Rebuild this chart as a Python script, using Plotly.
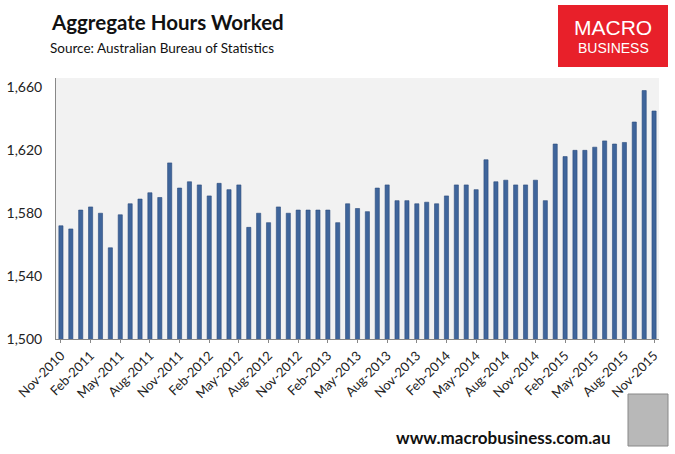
import plotly.graph_objects as go

month_names = ["Jan", "Feb", "Mar", "Apr", "May", "Jun", "Jul", "Aug", "Sep", "Oct", "Nov", "Dec"]
categories = []
for i in range(61):
    idx = 10 + i
    categories.append(f"{month_names[idx % 12]}-{2010 + idx // 12}")

hours = [1572, 1570, 1582, 1584, 1580, 1558, 1579, 1586, 1589, 1593,
         1590, 1612, 1596, 1600, 1598, 1591, 1599, 1595, 1598, 1571,
         1580, 1574, 1584, 1580, 1582, 1582, 1582, 1582, 1574, 1586,
         1583, 1581, 1596, 1598, 1588, 1588, 1586, 1587, 1586, 1591,
         1598, 1598, 1595, 1614, 1600, 1601, 1598, 1598, 1601, 1588,
         1624, 1616, 1620, 1620, 1622, 1626, 1624, 1625, 1638, 1658,
         1645]

tick_labels = categories[::3]
y_ticks = [1500, 1540, 1580, 1620, 1660]

L, R, T, B = 56, 16, 78, 115
W, H = 675, 454
PW, PH = W - L - R, H - T - B


def px(x):
    return (x - L) / PW


def py(y):
    return (H - B - y) / PH


fig = go.Figure()
fig.add_trace(go.Bar(
    x=categories, y=hours,
    marker=dict(color="#3F659B", line=dict(color="#2C4C7C", width=0.6)),
))

font_family = "Lato, Open Sans, sans-serif"
fig.update_layout(
    width=W, height=H,
    margin=dict(l=L, r=R, t=T, b=B),
    paper_bgcolor="white",
    plot_bgcolor="#f2f2f2",
    bargap=0.58,
    showlegend=False,
    font=dict(family=font_family, color="#222"),
    xaxis=dict(
        type="category", automargin=False,
        tickmode="array", tickvals=tick_labels, ticktext=tick_labels,
        tickangle=-45, tickfont=dict(size=13, color="#222"),
        showline=True, linecolor="#888", linewidth=1,
        ticks="outside", ticklen=3, tickcolor="#888",
        showgrid=False,
    ),
    yaxis=dict(
        automargin=False,
        range=[1500, 1666], tickvals=y_ticks, tickformat=",",
        tickfont=dict(size=14, color="#222"),
        showline=True, linecolor="#888", linewidth=1,
        showgrid=False, zeroline=False, ticks="", ticklabelstandoff=10,
    ),
)

fig.add_annotation(text="<b>Aggregate Hours Worked</b>", xref="paper", yref="paper",
                   x=px(49), y=py(22), xanchor="left", yanchor="middle",
                   showarrow=False, font=dict(size=20.5, family=font_family, color="#111"))
fig.add_annotation(text="Source: Australian Bureau of Statistics", xref="paper", yref="paper",
                   x=px(48), y=py(48), xanchor="left", yanchor="middle",
                   showarrow=False, font=dict(size=13.5, family=font_family, color="#111"))
fig.add_annotation(text="<b>www.macrobusiness.com.au</b>", xref="paper", yref="paper",
                   x=px(613), y=py(437), xanchor="right", yanchor="middle",
                   showarrow=False, font=dict(size=17, family=font_family, color="#111"))

# logo box
fig.add_shape(type="rect", xref="paper", yref="paper",
              x0=px(558), x1=px(668), y0=py(67), y1=py(5),
              fillcolor="#e8202a", line=dict(width=0), layer="above")
fig.add_annotation(text="MACRO", xref="paper", yref="paper",
                   x=px(613), y=py(28), xanchor="center", yanchor="middle",
                   showarrow=False, font=dict(size=21, family="Liberation Sans, Arial", color="white"))
fig.add_annotation(text="BUSINESS", xref="paper", yref="paper",
                   x=px(613), y=py(48), xanchor="center", yanchor="middle",
                   showarrow=False, font=dict(size=14, family="Liberation Sans, Arial", color="white"))
# wolf image placeholder
fig.add_shape(type="rect", xref="paper", yref="paper",
              x0=px(628), x1=px(668), y0=py(446), y1=py(394),
              fillcolor="#b8b8b8", line=dict(color="#888", width=1), layer="above")

fig.write_html("out.html", config={"displayModeBar": False},
               post_script="document.body.style.margin='0';document.body.style.overflow='hidden';")
